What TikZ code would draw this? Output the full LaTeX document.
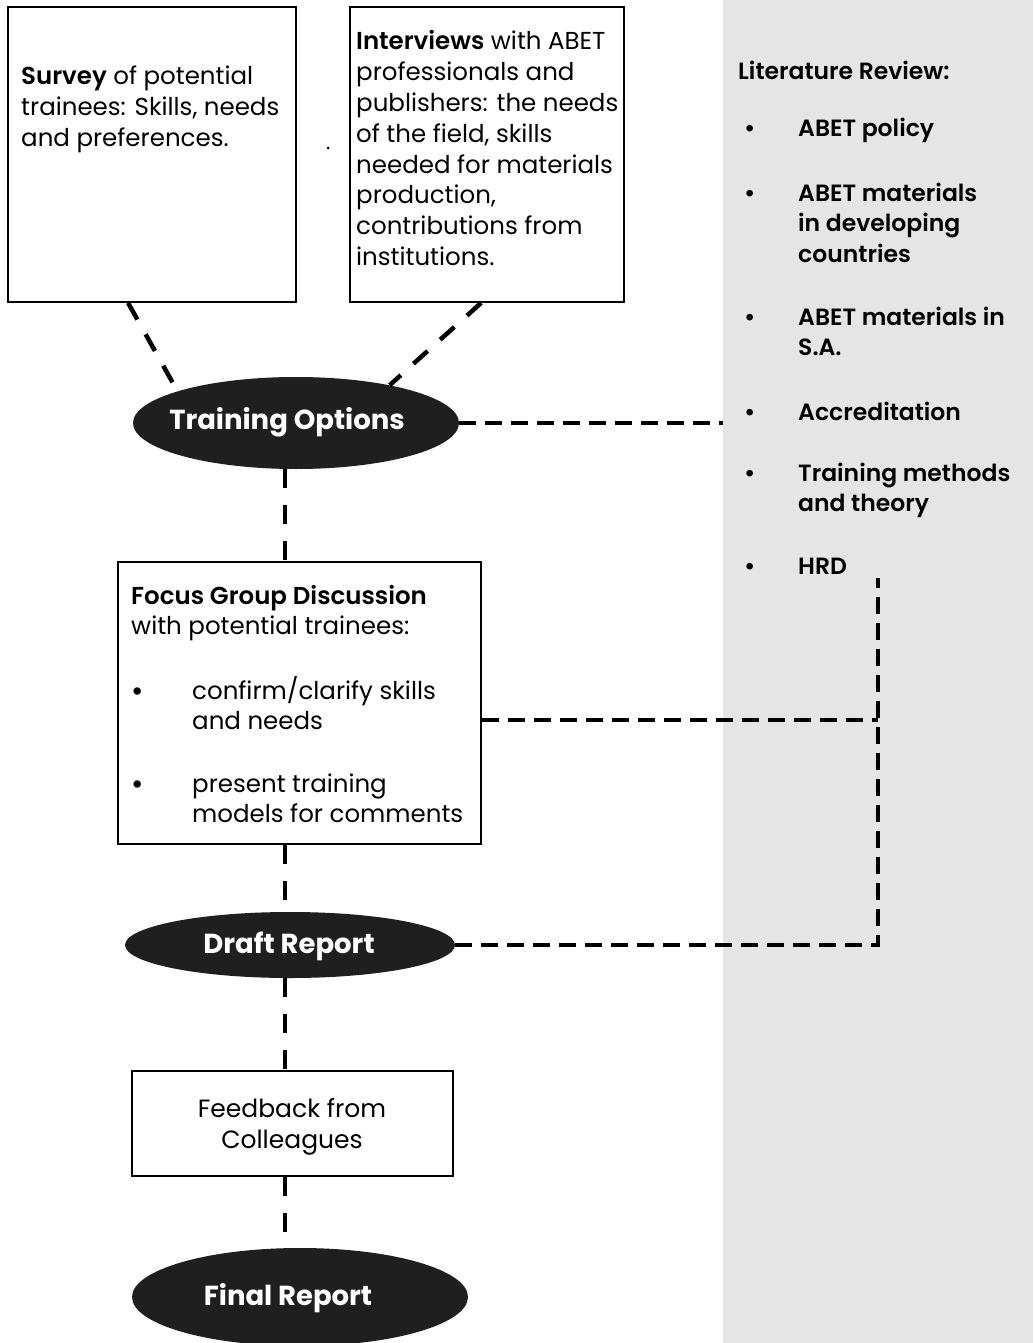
\documentclass[tikz,border=0pt]{standalone}
\usepackage{fontspec}
\setmainfont{Poppins}[BoldFont={Poppins SemiBold}]
\newfontfamily\heavyfont{Poppins}[UprightFont={* Bold}]
\usetikzlibrary{shapes.geometric,calc}
\newcommand{\lns}[1]{\begin{tabular}[t]{@{}l@{}}#1\end{tabular}}
\begin{document}
\begin{tikzpicture}[x=1pt,y=-1pt,
  box/.style={draw=black, line width=1.8pt, rectangle, inner sep=0pt},
  oval/.style={ellipse, fill=black!88, inner sep=0pt},
  ovaltxt/.style={inner sep=0pt, text=white, font=\fontsize{27.5}{30}\heavyfont},
  txt/.style={anchor=base west, inner sep=0pt, font=\fontsize{24.5}{30.8}\selectfont},
  lit/.style={anchor=base west, inner sep=0pt, font=\fontsize{23.5}{30.8}\selectfont\bfseries},
  conn/.style={line width=4.5pt, dash pattern=on 19pt off 17pt},
  hconn/.style={line width=4.5pt, dash pattern=on 17pt off 9pt},
]
\useasboundingbox (0,0) rectangle (1033,1343);
\fill[white] (0,0) rectangle (1033,1343);
\node[fill=gray!20, minimum width=310pt, minimum height=1343pt, inner sep=0pt, anchor=north west] (panel) at (723,0) {};

% boxes
\node[box, minimum width=288pt, minimum height=295pt] (survey) at (152,154.5) {};
\node[box, minimum width=274pt, minimum height=295pt] (interviews) at (487,154.5) {};
\node[box, minimum width=363pt, minimum height=282pt] (fg) at (299.5,703) {};
\node[box, minimum width=321pt, minimum height=105pt] (feedback) at (292.5,1123.5) {};

% ellipses
\node[oval, minimum width=326pt, minimum height=92pt] (to) at (296,423) {};
\node[oval, minimum width=330pt, minimum height=66pt] (dr) at (290,945) {};
\node[oval, minimum width=336pt, minimum height=98pt] (fr) at (300,1297) {};
\node[ovaltxt] (totxt) at (287,422) {Training Options};
\node[ovaltxt] (drtxt) at (289,946) {Draft Report};
\node[ovaltxt] (frtxt) at (288,1298) {Final Report};

% box texts
\node[txt] (survtxt) at (21,85) {\lns{\textbf{Survey} of potential\\trainees: Skills, needs\\and preferences.}};
\node[txt] (intvtxt) at (356,50) {\lns{\textbf{Interviews} with ABET\\professionals and\\publishers: the needs\\of the field, skills\\needed for materials\\production,\\contributions from\\institutions.}};
\node[circle, fill=black, inner sep=0pt, minimum size=3pt] (dot) at (328,148) {};

\node[txt] (fgtxt) at (131,604) {\lns{\textbf{Focus Group Discussion}\\with potential trainees:}};
\node[txt, font=\fontsize{30}{30}\selectfont] (fgb1) at (131,701) {•};
\node[txt] (fgi1) at (192,699) {\lns{confirm/clarify skills\\and needs}};
\node[txt, font=\fontsize{30}{30}\selectfont] (fgb2) at (131,794) {•};
\node[txt] (fgi2) at (192,792) {\lns{present training\\models for comments}};

\node[align=center, inner sep=0pt, font=\fontsize{25}{31}\selectfont] (fbtxt) at (292,1127) {Feedback from\\Colleagues};

% literature review
\node[lit] (littitle) at (738,80) {Literature Review:};
\foreach \y/\t [count=\i] in {137/ABET policy, 201/{ABET materials\\in developing\\countries}, 325/{ABET materials in\\S.A.}, 420/Accreditation, 481/{Training methods\\and theory}, 574/HRD} {
  \node[lit] (litb\i) at (744,\y) {•};
  \node[lit] (liti\i) at (798,\y) {\lns{\t}};
}

% connectors
\coordinate (chain) at (285,0);
\coordinate (rail) at (878,578);
\draw[conn] ($(survey.south west)+(121,0)$) -- (to.165);
\draw[conn] ($(interviews.south west)+(132,0)$) -- (to.22);
\draw[conn] (to.south -| chain) -- (fg.north -| chain);
\draw[conn] (fg.south -| chain) -- (dr.north -| chain);
\draw[conn] (dr.south -| chain) -- (feedback.north -| chain);
\draw[conn] (feedback.south -| chain) -- (fr.north -| chain);
\draw[hconn] (to.east) -- (to.east -| panel.west);
\path ($(fg.east)+(0,17)$) coordinate (fgo);
\draw[hconn] (fgo) -- (fgo -| rail);
\draw[hconn] (dr.east) -| (rail);
\end{tikzpicture}
\end{document}
